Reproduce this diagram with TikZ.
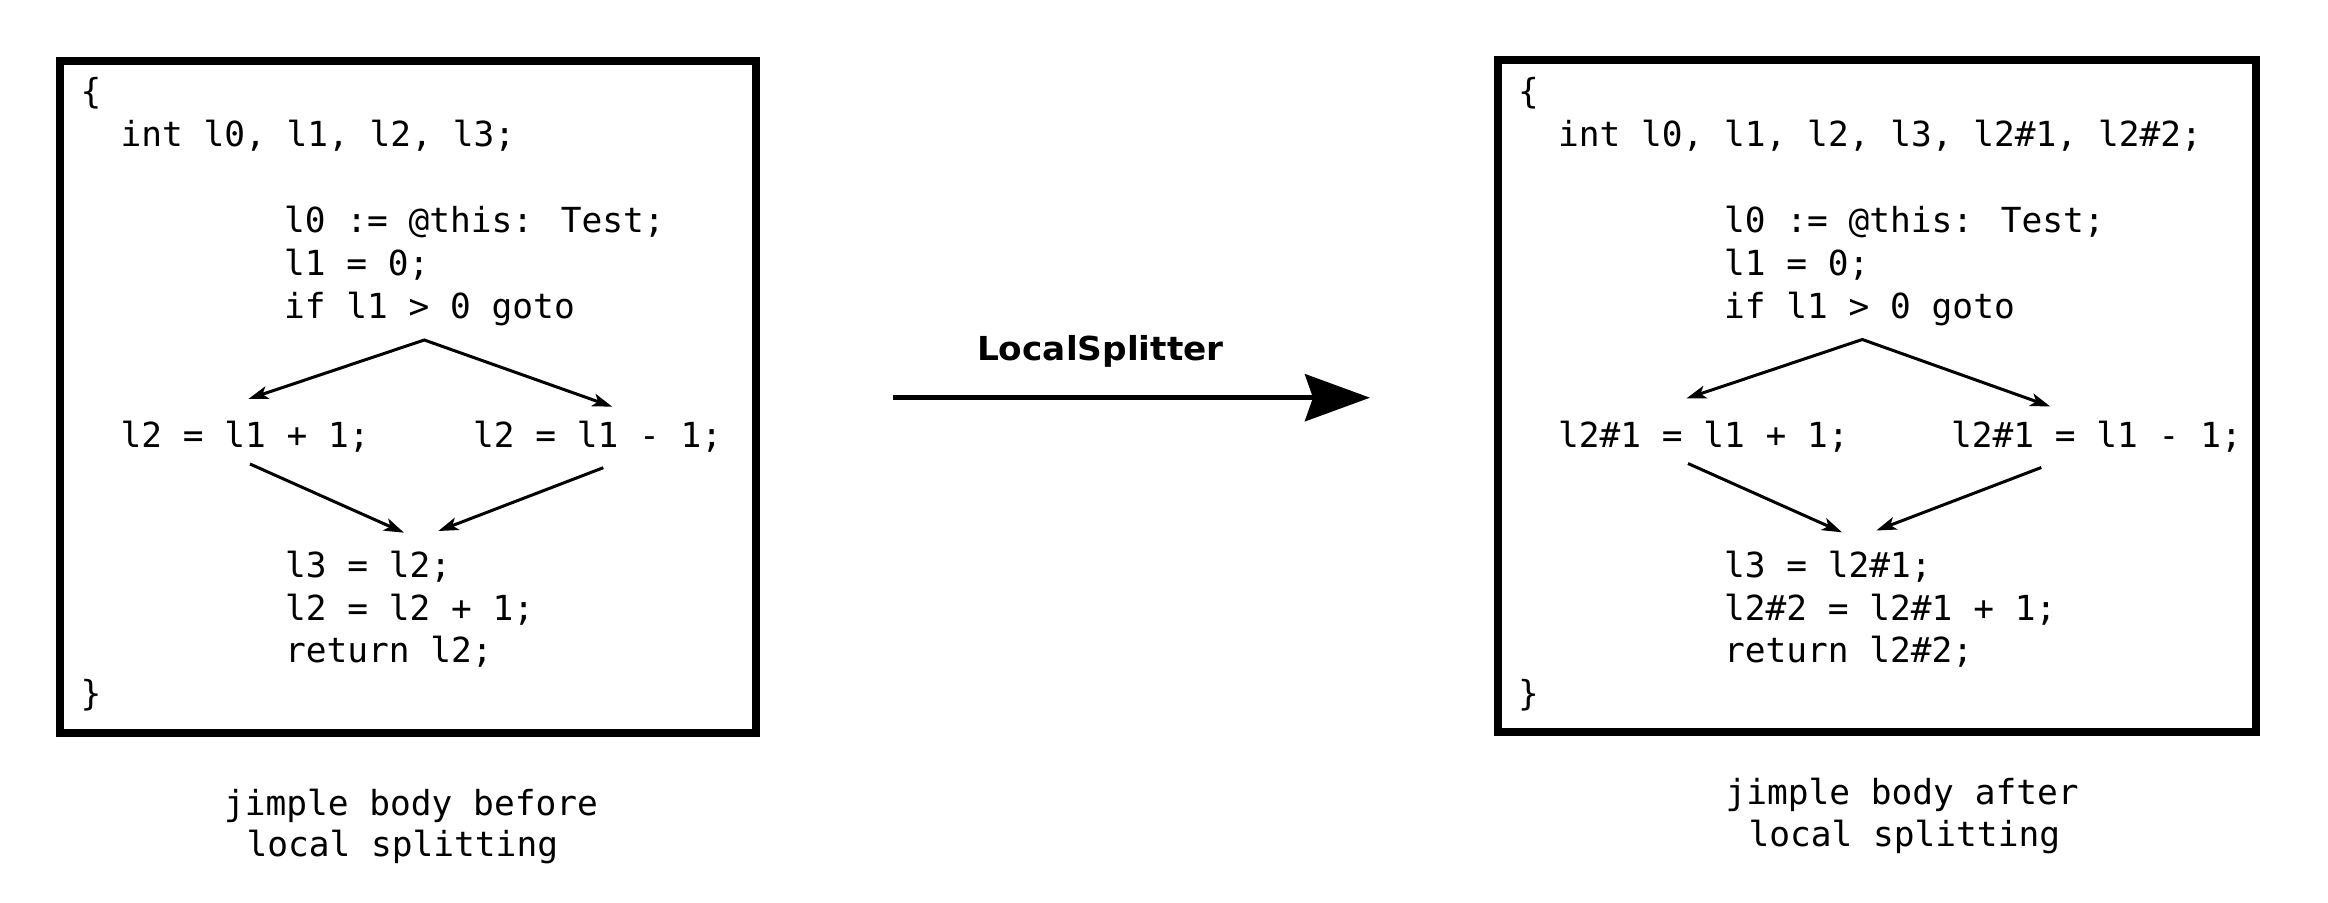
\documentclass[tikz,border=0pt]{standalone}
\usepackage{fontspec}
\usetikzlibrary{arrows.meta}
\newfontfamily\jmono{DejaVu Sans Mono}
\newfontfamily\jsans{DejaVu Sans}
\tikzset{
  code/.style={anchor=base west, inner sep=0pt, outer sep=0pt, font=\jmono\fontsize{34.5}{43}\selectfont},
  bodybox/.style={draw=black, line width=8pt, inner sep=0pt, fill=none},
  flow/.style={line width=3pt, -{Stealth[length=20pt,width=13pt,inset=5pt]}},
  flowboth/.style={line width=3pt, {Stealth[length=20pt,width=13pt,inset=5pt]}-{Stealth[length=20pt,width=13pt,inset=5pt]}},
  bigarrow/.style={line width=5pt, -{Stealth[length=65pt,width=47pt,inset=8pt]}},
  passname/.style={anchor=base, inner sep=0pt, font=\jsans\bfseries\fontsize{33}{38}\selectfont},
}
\begin{document}
\begin{tikzpicture}[x=1pt,y=-1pt]
\useasboundingbox (0,0) rectangle (2328,902);

% boxes
\node[bodybox, minimum width=696.8pt, minimum height=672.5pt] (Lbox) at (407.9,396.75) {};
\node[bodybox, minimum width=758.5pt, minimum height=672.2pt] (Rbox) at (1876.75,395.9) {};

% left body
\node[code] (Lopen) at (80.5,103) {\{};
\node[code] (Ldecl) at (120.5,146) {int l0, l1, l2, l3;};
\node[code] (Lthis) at (284,232) {l0 := @this: Test;};
\node[code] (Lset)  at (284,275) {l1 = 0;};
\node[code] (Lif)   at (284,318) {if l1 > 0 goto};
\node[code] (Lplus) at (120.5,447.5) {l2 = l1 + 1;};
\node[code] (Lminus) at (473,447.5) {l2 = l1 - 1;};
\node[code] (Lcopy) at (285,577) {l3 = l2;};
\node[code] (Linc)  at (285,620) {l2 = l2 + 1;};
\node[code] (Lret)  at (285,662.5) {return l2;};
\node[code] (Lclose) at (80.5,705.5) {\}};

% right body
\node[code] (Ropen) at (1518,103) {\{};
\node[code] (Rdecl) at (1558,146) {int l0, l1, l2, l3, l2\#1, l2\#2;};
\node[code] (Rthis) at (1724,232) {l0 := @this: Test;};
\node[code] (Rset)  at (1724,275) {l1 = 0;};
\node[code] (Rif)   at (1724,318) {if l1 > 0 goto};
\node[code] (Rplus) at (1558,447.5) {l2\#1 = l1 + 1;};
\node[code] (Rminus) at (1951,447.5) {l2\#1 = l1 - 1;};
\node[code] (Rcopy) at (1724,577) {l3 = l2\#1;};
\node[code] (Rinc)  at (1724,620) {l2\#2 = l2\#1 + 1;};
\node[code] (Rret)  at (1724,662.5) {return l2\#2;};
\node[code] (Rclose) at (1518,705.5) {\}};

% captions
\node[code] (Lcap1) at (224,815) {jimple body before};
\node[code] (Lcap2) at (246.5,856.7) {local splitting};
\node[code] (Rcap1) at (1725.5,804.3) {jimple body after};
\node[code] (Rcap2) at (1748.5,846.7) {local splitting};

% left flow arrows
\coordinate (LA) at (424.3,340);
\coordinate (LAl) at (248.3,399);
\coordinate (LAr) at (612.3,406.7);
\coordinate (LBl) at (250,464);
\coordinate (LBlt) at (404,532.7);
\coordinate (LBr) at (603.3,467.7);
\coordinate (LBrt) at (438.3,531);
\draw[flowboth] (LAl) -- (LA) -- (LAr);
\draw[flow] (LBl) -- (LBlt);
\draw[flow] (LBr) -- (LBrt);

% right flow arrows
\coordinate (RA) at (1862.3,339.5);
\coordinate (RAl) at (1686.3,398.5);
\coordinate (RAr) at (2050.3,406.5);
\coordinate (RBl) at (1688,463.5);
\coordinate (RBlt) at (1842,532.3);
\coordinate (RBr) at (2041.3,467.5);
\coordinate (RBrt) at (1876.3,530.5);
\draw[flowboth] (RAl) -- (RA) -- (RAr);
\draw[flow] (RBl) -- (RBlt);
\draw[flow] (RBr) -- (RBrt);

% transformation arrow
\coordinate (TS) at (893,397.7);
\coordinate (TE) at (1370,397.7);
\draw[bigarrow] (TS) -- (TE);
\node[passname] (Tname) at (1100.3,360) {\scalebox{1.04}[1]{LocalSplitter}};
\end{tikzpicture}
\end{document}
